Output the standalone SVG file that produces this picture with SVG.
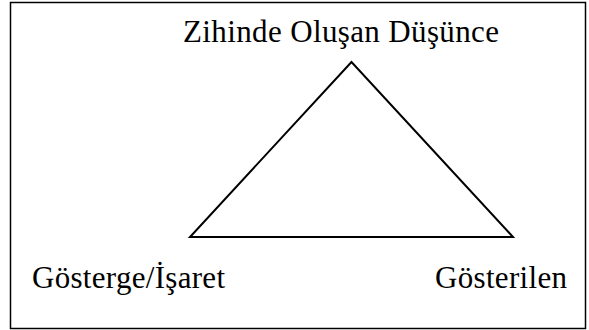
<svg xmlns="http://www.w3.org/2000/svg" width="589" height="330" viewBox="0 0 589 330">
<style>
.t{font-family:"Liberation Serif","Times New Roman",serif;font-size:31px;fill:#000}
.ln{fill:none;stroke:#000;stroke-width:2}
</style>
<rect x="0" y="0" width="589" height="330" fill="#fff"/>
<rect x="10.5" y="2.5" width="575" height="326" fill="none" stroke="#000" stroke-width="1.5"/>
<g id="connectors">
<polygon class="ln" points="351.5,62 190,237 513,237"/>
</g>
<g id="node-top"><text class="t" x="183" y="42" textLength="316" lengthAdjust="spacing">Zihinde Oluşan Düşünce</text></g>
<g id="node-left"><text class="t" x="32" y="288" textLength="193" lengthAdjust="spacing">Gösterge/İşaret</text></g>
<g id="node-right"><text class="t" x="435" y="288" textLength="132" lengthAdjust="spacing">Gösterilen</text></g>
</svg>
